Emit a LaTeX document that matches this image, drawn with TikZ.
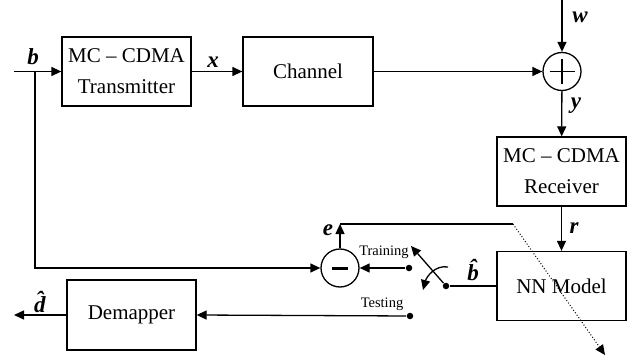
\documentclass[tikz,border=0pt]{standalone}
\usepackage{fontspec}
\setmainfont{Liberation Serif}
\usepackage{tikz}
\usetikzlibrary{arrows.meta}
\usetikzlibrary{positioning}

\begin{document}
\begin{tikzpicture}[x=1pt,y=-1pt,line width=1.3pt,>={Triangle[length=10pt,width=9pt]},
  blk/.style={draw,minimum width=129pt,minimum height=69pt,align=center,inner sep=0pt,font=\fontsize{21}{31}\selectfont},
  ring/.style={draw,circle,minimum size=38pt,inner sep=0pt},
  dot/.style={circle,fill,inner sep=0pt,minimum size=6.5pt},
  sym/.style={inner sep=0pt,font=\fontsize{23}{23}\selectfont\bfseries\itshape},
  tag/.style={inner sep=0pt,font=\fontsize{14.5}{15}\selectfont}]
  \useasboundingbox (0,0) rectangle (627,356);
  \node[blk] (tx) at (126.5,71.5) {MC -- CDMA\\Transmitter};
  \node[blk,minimum width=130pt] (ch) at (308,71.5) {Channel};
  \node[ring] (add) at (562,71.5) {};
  \node[blk] (rx) at (561.5,171.5) {MC -- CDMA\\Receiver};
  \node[blk] (nn) at (561.5,286) {NN Model};
  \node[ring] (sub) at (340,268) {};
  \node[blk,minimum height=70pt] (dm) at (131.5,315) {Demapper};
  \node[dot] (trn) at (409,268) {};
  \node[dot] (sw) at (446,286) {};
  \node[dot] (tst) at (410,316) {};
  \coordinate (bin) at (14,71.5);
  \coordinate (bsplit) at (35,71.5);
  \coordinate (bturn) at (35,268);
  \coordinate (wtop) at (562,0);
  \coordinate (eup) at (340,224);
  \coordinate (ecorner) at (513,224);
  \coordinate (etip) at (605,355);
  \coordinate (dout) at (14,315);
  \coordinate (swtip) at (411,246);
  \coordinate (c1) at (448,267);
  \coordinate (c2) at (423,290);
  \node[sym] (lb) at (33,57) {b};
  \node[sym] (lx) at (213,62) {x};
  \node[sym] (lw) at (580,17) {w};
  \node[sym] (ly) at (576,106) {y};
  \node[sym] (lr) at (574,228) {r};
  \node[sym] (le) at (328,230) {e};
  \node[sym] (lbh) at (473,270) {\^{b}};
  \node[sym] (ldh) at (40,302) {\^{d}};
  \node[tag] (ltr) at (384,252) {Training};
  \node[tag] (lts) at (382,304) {Testing};
  \draw ([xshift=-12.5pt]add.center) -- ([xshift=12.5pt]add.center);
  \draw ([yshift=-12.5pt]add.center) -- ([yshift=12.5pt]add.center);
  \draw[line width=3pt] ([xshift=-8pt]sub.center) -- ([xshift=8pt]sub.center);
  \draw[->] (bin) -- (tx.west);
  \draw[->] (tx) -- (ch);
  \draw[->] (ch) -- (add);
  \draw[->] (wtop) -- (add);
  \draw[->] (add) -- (rx);
  \draw[->] (rx) -- (nn);
  \draw[->] (bsplit) -- (bturn) -- (sub.west);
  \draw[->] (sub) -- (eup);
  \draw (eup) -- (ecorner);
  \draw[dotted,line width=1pt,->] (ecorner) -- (etip);
  \draw[->] (trn) -- (sub.east);
  \draw (nn.west |- sw) -- (sw);
  \draw[->] (sw) -- (swtip);
  \draw[->] (c1) to[out=170,in=75] (c2);
  \draw[->] (tst) -- (dm.east);
  \draw[->] (dm.west) -- (dout);
\end{tikzpicture}
\end{document}
